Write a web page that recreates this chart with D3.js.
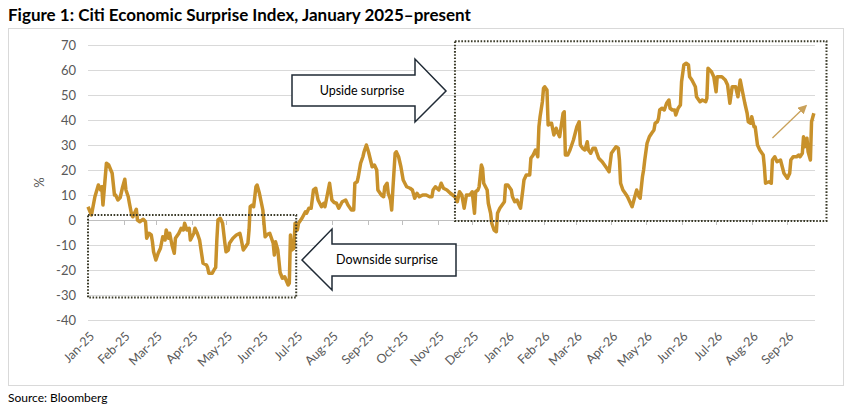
<!DOCTYPE html>
<html>
<head>
<meta charset="utf-8">
<script src="https://cdn.jsdelivr.net/npm/d3@7"></script>
<style>
  body { margin: 0; background: #fff; }
  svg { display: block; font-family: Lato, "Open Sans", sans-serif; }
</style>
</head>
<body>
<svg id="chart" width="853" height="407"></svg>
<script>
const dates = [
  "2025-01-01","2025-01-04","2025-01-07","2025-01-10","2025-01-12","2025-01-13","2025-01-14","2025-01-17","2025-01-19","2025-01-22","2025-01-24","2025-01-25","2025-01-27","2025-01-29","2025-01-31",
  "2025-02-02","2025-02-03","2025-02-05","2025-02-06","2025-02-08","2025-02-09","2025-02-12","2025-02-13","2025-02-15","2025-02-18","2025-02-20","2025-02-21","2025-02-23","2025-02-25","2025-02-26","2025-02-27",
  "2025-03-01","2025-03-03","2025-03-05","2025-03-07","2025-03-09","2025-03-10","2025-03-12","2025-03-13","2025-03-15","2025-03-17","2025-03-18","2025-03-21","2025-03-23","2025-03-25","2025-03-26","2025-03-28","2025-03-30","2025-03-31",
  "2025-04-03","2025-04-04","2025-04-06","2025-04-08","2025-04-11","2025-04-14","2025-04-15","2025-04-16","2025-04-19","2025-04-21","2025-04-22","2025-04-23","2025-04-24","2025-04-26","2025-04-28","2025-04-30",
  "2025-05-01","2025-05-03","2025-05-04","2025-05-07","2025-05-10","2025-05-13","2025-05-14","2025-05-16","2025-05-18","2025-05-20","2025-05-21","2025-05-22","2025-05-24","2025-05-25","2025-05-27","2025-05-28","2025-05-30",
  "2025-06-02","2025-06-04","2025-06-06","2025-06-08","2025-06-11","2025-06-12","2025-06-13","2025-06-15","2025-06-17","2025-06-19","2025-06-21","2025-06-24","2025-06-25","2025-06-26","2025-06-27","2025-06-29","2025-06-30",
  "2025-07-02","2025-07-03","2025-07-06","2025-07-09","2025-07-10","2025-07-12","2025-07-14","2025-07-16","2025-07-18","2025-07-20","2025-07-23","2025-07-25","2025-07-26","2025-07-30",
  "2025-08-01","2025-08-03","2025-08-05","2025-08-07","2025-08-10","2025-08-13","2025-08-15","2025-08-18","2025-08-20","2025-08-21","2025-08-23","2025-08-24","2025-08-26","2025-08-28","2025-08-29","2025-08-31",
  "2025-09-02","2025-09-05","2025-09-07","2025-09-09","2025-09-10","2025-09-13","2025-09-15","2025-09-16","2025-09-18","2025-09-19","2025-09-21","2025-09-22","2025-09-23","2025-09-25","2025-09-26","2025-09-28","2025-09-30",
  "2025-10-02","2025-10-05","2025-10-08","2025-10-10","2025-10-12","2025-10-14","2025-10-16","2025-10-19","2025-10-22","2025-10-25","2025-10-27","2025-10-28","2025-10-30",
  "2025-11-02","2025-11-04","2025-11-06","2025-11-09","2025-11-12","2025-11-16","2025-11-18","2025-11-20","2025-11-22","2025-11-24","2025-11-26","2025-11-29",
  "2025-12-01","2025-12-03","2025-12-04","2025-12-06","2025-12-07","2025-12-09","2025-12-10","2025-12-11","2025-12-14","2025-12-15","2025-12-17","2025-12-18","2025-12-20","2025-12-22","2025-12-23","2025-12-25","2025-12-27","2025-12-29","2025-12-30",
  "2026-01-01","2026-01-04","2026-01-05","2026-01-07","2026-01-09","2026-01-10","2026-01-12","2026-01-14","2026-01-15","2026-01-17","2026-01-20","2026-01-21","2026-01-23","2026-01-25","2026-01-27","2026-01-28","2026-01-29","2026-01-31",
  "2026-02-01","2026-02-02","2026-02-04","2026-02-05","2026-02-07","2026-02-08","2026-02-10","2026-02-12","2026-02-13","2026-02-15","2026-02-18","2026-02-19","2026-02-20","2026-02-22","2026-02-24","2026-02-27",
  "2026-03-02","2026-03-04","2026-03-05","2026-03-07","2026-03-09","2026-03-11","2026-03-12","2026-03-14","2026-03-16","2026-03-18","2026-03-19","2026-03-21","2026-03-24","2026-03-26","2026-03-28","2026-03-30",
  "2026-04-01","2026-04-03","2026-04-05","2026-04-07","2026-04-08","2026-04-09","2026-04-11","2026-04-13","2026-04-15","2026-04-17","2026-04-19","2026-04-21","2026-04-23","2026-04-25","2026-04-26","2026-04-28","2026-04-29","2026-04-30",
  "2026-05-02","2026-05-04","2026-05-06","2026-05-08","2026-05-09","2026-05-11","2026-05-12","2026-05-13","2026-05-15","2026-05-17","2026-05-19","2026-05-21","2026-05-22","2026-05-24","2026-05-26","2026-05-27","2026-05-29","2026-05-31",
  "2026-06-01","2026-06-03","2026-06-05","2026-06-07","2026-06-08","2026-06-10","2026-06-13","2026-06-14","2026-06-17","2026-06-19","2026-06-22","2026-06-23","2026-06-24","2026-06-27","2026-06-29",
  "2026-07-01","2026-07-02","2026-07-06","2026-07-09","2026-07-11","2026-07-13","2026-07-15","2026-07-18","2026-07-20","2026-07-22","2026-07-24","2026-07-26","2026-07-28","2026-07-29","2026-07-31",
  "2026-08-01","2026-08-03","2026-08-04","2026-08-06","2026-08-08","2026-08-11","2026-08-12","2026-08-13","2026-08-16","2026-08-18","2026-08-19","2026-08-21","2026-08-23","2026-08-26","2026-08-29",
  "2026-09-01","2026-09-03","2026-09-04","2026-09-06","2026-09-09","2026-09-11","2026-09-12","2026-09-14","2026-09-15","2026-09-16","2026-09-18","2026-09-19","2026-09-21","2026-09-22","2026-09-24"
];
const surprise = [
  5.3, 2, 9.3, 14, 12, 13.3, 6, 22.7, 22, 18.7, 10, 10, 8, 9, 13,
  16.3, 12, 9.3, 6.7, 2, 1.3, 4.3, 0, -0.7, 0.3, -0.7, -7.3, -5.3, -6, -8.7, -12.7,
  -16, -13.3, -11.3, -6.7, -8, -4, -7.3, -5.3, -10, -13.3, -7.3, -5.3, -3.3, -4, -1.3, -4, -3.3, -8,
  -5.3, -3.3, -5.3, -8, -17.3, -18, -19, -21.3, -21.3, -19.6, -19, -8, 0, 0.7, -1.3, -9.3,
  -12.7, -12, -9.3, -7.3, -6, -5.3, -7.3, -12, -10.7, -9.3, -4, 5.3, 6, 5.3, 13.3, 14, 10.7,
  4, -6.7, -5.7, -5.3, -9.3, -14, -8.7, -12, -21, -23.3, -22.7, -26, -25.3, -6, -12, -11.3, -1.3,
  -4, -1.3, 0.7, 3.3, 2.7, 4.7, 4.7, 12, 12.7, 8, 5.3, 6.7, 5.3, 14.7,
  8, 7, 6.7, 4.7, 7.3, 8, 6, 4, 4, 14.7, 15.3, 17.3, 22.7, 25.3, 27.3, 30,
  27, 21.3, 22, 20, 12, 10, 9.3, 13.3, 14.7, 10.7, 8, 4, 12, 26.7, 27.3, 25.3, 21.3,
  16, 13.3, 12.7, 12, 8.7, 10.7, 9.3, 10, 10, 9.3, 9.3, 12, 13.3,
  12, 14.7, 12.7, 12, 10.7, 9.3, 7.3, 11.3, 10, 4.7, 10, 10,
  11.3, 2.7, 11.3, 12, 13.3, 22, 20.7, 14.7, 12, 6.7, 2.7, -1.3, -4, -4.7, 2.7, 4.7, 6, 7.3, 14,
  14, 12, 9.3, 7.3, 8, 6.7, 4.7, 12, 16, 18, 18, 24.7, 26, 28, 25.3, 37.3, 41.3, 47.3,
  52.7, 53.3, 52, 38, 38.7, 38.7, 34, 36.7, 35.3, 33.3, 42.7, 43.3, 26, 26, 28, 32,
  37.3, 39.3, 30, 28.7, 28, 31.3, 28, 26.7, 28.7, 28.7, 27.3, 24.7, 23.3, 22, 20.7, 19.3,
  26.7, 28, 29.3, 28.7, 24, 14.7, 12, 10.7, 9.3, 7.3, 5.3, 8.7, 12, 9.3, 8.7, 17.3, 20, 24,
  30.7, 33.3, 34.7, 36, 38.7, 39.3, 40.7, 44, 44.7, 44, 46.7, 48, 44.7, 44, 44, 42, 44.7, 46,
  55.3, 62, 62.7, 62, 57.3, 56, 53.3, 49.3, 47.3, 48, 47.3, 48.7, 60.7, 59.3, 57.3,
  51.3, 57.3, 57.3, 56, 54, 46.7, 53.3, 53.3, 49.3, 56, 51.3, 46.7, 42.7, 39.3, 38.7,
  41.3, 37.3, 37.3, 30, 28, 26, 21.3, 14.7, 15.3, 14.7, 24, 25.3, 23.3, 24, 18.7,
  16.7, 18.7, 24, 25.3, 25.3, 26, 25.3, 26.7, 33.3, 29.3, 32.7, 27.3, 24, 39.3, 42.7
];
const yTicks = [70, 60, 50, 40, 30, 20, 10, 0, -10, -20, -30, -40];
const xDomain = ["2025-01-01", "2026-09-25"];
// highlighted regions: [start date, end date, top value, bottom value]
const downsideBox = ["2025-01-01", "2025-07-01", 2, -31];
const upsideBox = ["2025-11-16", "2026-10-05", 71.5, -0.4];
// trend arrow: [start date, value, end date, value]
const trendArrow = ["2026-08-19", 32.8, "2026-09-17", 45.6];

const parse = d3.utcParse("%Y-%m-%d");
const fmtMonth = d3.utcFormat("%b-%y");
const data = dates.map((d, i) => ({ date: parse(d), value: surprise[i] }));

const svg = d3.select("#chart");
const lineColor = "#c8912b";
const textColor = "#595959";

const x = d3.scaleUtc().domain(xDomain.map(parse)).range([88, 815]);
const y = d3.scaleLinear().domain([-40, 70]).range([320, 45]);

// title + frame
svg.append("text")
  .attr("x", 8).attr("y", 21)
  .attr("font-size", 17).attr("font-weight", "bold").attr("fill", "#000")
  .text("Figure 1: Citi Economic Surprise Index, January 2025\u2013present");

svg.append("rect")
  .attr("x", 8.5).attr("y", 28.5).attr("width", 835).attr("height", 357)
  .attr("fill", "none").attr("stroke", "#d9d9d9");

svg.append("text")
  .attr("x", 8).attr("y", 402)
  .attr("font-size", 12).attr("fill", "#000")
  .text("Source: Bloomberg");

// grid
svg.append("g")
  .selectAll("line")
  .data(yTicks)
  .join("line")
  .attr("x1", x.range()[0]).attr("x2", x.range()[1])
  .attr("y1", (d) => Math.round(y(d)) + 0.5).attr("y2", (d) => Math.round(y(d)) + 0.5)
  .attr("stroke", (d) => d === 0 ? "#bfbfbf" : "#d9d9d9");

svg.append("g")
  .selectAll("text")
  .data(yTicks)
  .join("text")
  .attr("x", 76).attr("y", (d) => y(d))
  .attr("dy", "0.35em").attr("text-anchor", "end")
  .attr("font-size", 13).attr("fill", textColor)
  .text((d) => d);

svg.append("text")
  .attr("transform", `translate(44,${y(15)}) rotate(-90)`)
  .attr("text-anchor", "middle").attr("font-size", 13).attr("fill", textColor)
  .text("%");

// month ticks on the zero line, labels at the bottom
const months = d3.utcMonth.range(x.domain()[0], d3.utcMonth.offset(x.domain()[1], 1))
  .filter((m) => m <= x.domain()[1]);

svg.append("g")
  .selectAll("line")
  .data(months)
  .join("line")
  .attr("x1", (d) => Math.round(x(d)) + 0.5).attr("x2", (d) => Math.round(x(d)) + 0.5)
  .attr("y1", y(0)).attr("y2", y(0) + 5)
  .attr("stroke", "#bfbfbf");

svg.append("g")
  .selectAll("text")
  .data(months)
  .join("text")
  .attr("transform", (d) => `translate(${x(d) + 4},${y(-40) + 14}) rotate(-45)`)
  .attr("text-anchor", "end").attr("dy", "0.35em")
  .attr("font-size", 12.5).attr("fill", textColor)
  .text((d) => fmtMonth(d));

// series
svg.append("path")
  .datum(data)
  .attr("fill", "none")
  .attr("stroke", lineColor)
  .attr("stroke-width", 3.5)
  .attr("stroke-linejoin", "round")
  .attr("d", d3.line().x((d) => x(d.date)).y((d) => y(d.value)));

// dotted boxes
[downsideBox, upsideBox].forEach(([d0, d1, top, bottom]) => {
  svg.append("rect")
    .attr("x", x(parse(d0))).attr("y", y(top))
    .attr("width", x(parse(d1)) - x(parse(d0)))
    .attr("height", y(bottom) - y(top))
    .attr("fill", "none")
    .attr("stroke", "#3a3a28")
    .attr("stroke-width", 2)
    .attr("stroke-dasharray", "1.6,1.6");
});

// callout arrows
const calloutStyle = (sel) => sel.attr("fill", "#fff").attr("stroke", "#1f2a35").attr("stroke-width", 1.5);

svg.append("polygon")
  .attr("points", "292,75 415,75 415,59 446,91 415,122 415,106 292,106")
  .call(calloutStyle);
svg.append("text")
  .attr("x", 362).attr("y", 91).attr("dy", "0.35em")
  .attr("text-anchor", "middle").attr("font-size", 12.5).attr("fill", "#000")
  .text("Upside surprise");

svg.append("polygon")
  .attr("points", "302,260 332,229 332,244 456,244 456,276 332,276 332,290")
  .call(calloutStyle);
svg.append("text")
  .attr("x", 387).attr("y", 260).attr("dy", "0.35em")
  .attr("text-anchor", "middle").attr("font-size", 12.5).attr("fill", "#000")
  .text("Downside surprise");

svg.append("defs").append("marker")
  .attr("id", "head").attr("viewBox", "0 0 10 10")
  .attr("refX", 8).attr("refY", 5)
  .attr("markerWidth", 7).attr("markerHeight", 7)
  .attr("orient", "auto")
  .append("path").attr("d", "M0,0 L10,5 L0,10 Z").attr("fill", "#c9a15a");

svg.append("line")
  .attr("x1", x(parse(trendArrow[0]))).attr("y1", y(trendArrow[1]))
  .attr("x2", x(parse(trendArrow[2]))).attr("y2", y(trendArrow[3]))
  .attr("stroke", "#c9a15a").attr("stroke-width", 1.3)
  .attr("marker-end", "url(#head)");
</script>
</body>
</html>
